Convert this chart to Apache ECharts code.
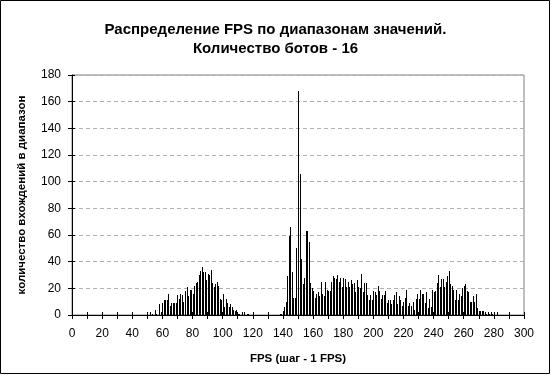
<!DOCTYPE html>
<html>
<head>
<meta charset="utf-8">
<script src="https://cdn.jsdelivr.net/npm/echarts@6/dist/echarts.min.js"></script>
<style>
html,body{margin:0;padding:0;background:#fff;}
#chart{width:551px;height:375px;}
</style>
</head>
<body>
<div id="chart"></div>
<script>
var titleLines = ['Распределение FPS по диапазонам значений.', 'Количество ботов - 16'];
var xAxisName = 'FPS (шаг - 1 FPS)';
var yAxisName = 'количество вхождений в диапазон';
var xTickLabels = [0, 20, 40, 60, 80, 100, 120, 140, 160, 180, 200, 220, 240, 260, 280, 300];
var yTickLabels = [0, 20, 40, 60, 80, 100, 120, 140, 160, 180];
var fpsStart = 0;
// counts for FPS = 0 .. 300
var counts = [
  0,0,0,0,0,0,0,0,0,0,          // 0-9
  0,0,0,0,0,0,0,0,0,0,          // 10-19
  0,0,0,0,0,0,0,0,0,0,          // 20-29
  0,0,0,0,0,0,0,0,0,0,          // 30-39
  0,0,0,0,0,0,0,0,0,0,          // 40-49
  0,0,2,1,0,4,1,0,8,2,          // 50-59
  9,11,11,11,16,7,9,9,9,9,      // 60-69
  15,12,16,15,10,18,21,14,19,19,// 70-79
  16,22,24,25,30,33,36,32,32,26,// 80-89
  31,30,34,24,21,23,25,22,12,11,// 90-99
  16,6,12,9,6,8,6,4,3,4,        // 100-109
  1,1,0,2,2,0,1,1,0,0,          // 110-119
  0,0,0,0,0,0,0,0,0,0,          // 120-129
  0,0,0,0,0,0,0,0,1,1,          // 130-139
  3,6,10,29,59,66,32,13,13,50,  // 140-149
  168,106,42,23,28,63,63,55,24,20, // 150-159
  18,13,16,17,14,25,16,14,25,19,// 160-169
  18,18,25,29,28,27,30,25,28,21,// 170-179
  28,27,21,25,21,26,23,24,17,26,// 180-189
  21,20,31,17,24,24,15,11,15,11,// 190-199
  18,17,15,22,18,12,15,15,18,9, // 200-209
  11,11,8,11,15,17,8,14,11,7,   // 210-219
  10,13,19,7,9,7,10,4,12,16,    // 220-229
  12,19,16,16,9,17,5,12,6,19,   // 230-239
  17,18,24,30,21,27,27,21,25,29,// 240-249
  33,23,22,19,11,19,11,16,14,20,// 250-259
  22,23,18,17,10,10,14,10,16,5, // 260-269
  3,3,3,3,2,1,2,1,2,1,          // 270-279
  0,0,2,0,0,0,0,0,0,0,          // 280-289
  0,0,0,0,0,0,0,0,0,0,          // 290-299
  0                             // 300
];

var barData = counts.map(function (c, i) { return [fpsStart + i, c]; });

var chart = echarts.init(document.getElementById('chart'), null, {renderer: 'canvas'});
var FONT = 'Liberation Sans, Arial, sans-serif';
chart.setOption({
  animation: false,
  backgroundColor: '#ffffff',
  title: {
    text: titleLines.join('\n'),
    left: 'center',
    top: 15,
    textStyle: {fontFamily: FONT, fontSize: 15, fontWeight: 'bold', color: '#000', lineHeight: 19}
  },
  graphic: [{
    type: 'rect', shape: {x: 0.5, y: 0.5, width: 549, height: 373},
    style: {fill: 'none', stroke: '#000', lineWidth: 1}, silent: true
  }],
  grid: {left: 72, right: 27, top: 75, bottom: 60, show: true, borderColor: '#808080', borderWidth: 1},
  xAxis: [{
    type: 'value', min: xTickLabels[0], max: xTickLabels[xTickLabels.length - 1], interval: 10,
    name: xAxisName, nameLocation: 'middle', nameGap: 38,
    nameTextStyle: {fontFamily: FONT, fontSize: 11.5, fontWeight: 'bold', color: '#000'},
    axisLine: {show: true, lineStyle: {color: '#000', width: 1}},
    axisTick: {show: true, length: 4, lineStyle: {color: '#000'}},
    axisLabel: {
      fontFamily: FONT, fontSize: 12, color: '#000', margin: 13,
      formatter: function (v) { return xTickLabels.indexOf(v) >= 0 ? String(v) : ''; }
    },
    splitLine: {show: false}
  }, {
    type: 'value', position: 'bottom', min: xTickLabels[0], max: xTickLabels[xTickLabels.length - 1], interval: 10,
    axisLine: {show: false},
    axisTick: {show: true, inside: true, length: 3, lineStyle: {color: '#000'}},
    axisLabel: {show: false}, splitLine: {show: false}
  }],
  yAxis: [{
    type: 'value', min: yTickLabels[0], max: yTickLabels[yTickLabels.length - 1], interval: 20,
    name: yAxisName, nameLocation: 'middle', nameGap: 44,
    nameTextStyle: {fontFamily: FONT, fontSize: 11.5, fontWeight: 'bold', color: '#000'},
    axisLine: {show: true, lineStyle: {color: '#000', width: 1}},
    axisTick: {show: true, length: 4, lineStyle: {color: '#000'}},
    axisLabel: {fontFamily: FONT, fontSize: 12, color: '#000', margin: 11},
    splitLine: {show: true, lineStyle: {color: '#b0b0b0', type: [4, 3], width: 1}}
  }, {
    type: 'value', position: 'left', min: yTickLabels[0], max: yTickLabels[yTickLabels.length - 1], interval: 20,
    axisLine: {show: false},
    axisTick: {show: true, inside: true, length: 3, lineStyle: {color: '#000'}},
    axisLabel: {show: false}, splitLine: {show: false}
  }],
  series: [{
    type: 'custom',
    xAxisIndex: 0, yAxisIndex: 0,
    data: barData,
    encode: {x: 0, y: 1},
    renderItem: function (params, api) {
      var top = api.coord([api.value(0), api.value(1)]);
      var base = api.coord([api.value(0), 0]);
      var x = Math.round(top[0]);
      var h = Math.round(base[1]) - Math.round(top[1]);
      if (h <= 0) return null;
      return {
        type: 'rect',
        shape: {x: x, y: Math.round(top[1]), width: 1, height: h},
        style: {fill: '#000'}
      };
    }
  }]
});
</script>
</body>
</html>
